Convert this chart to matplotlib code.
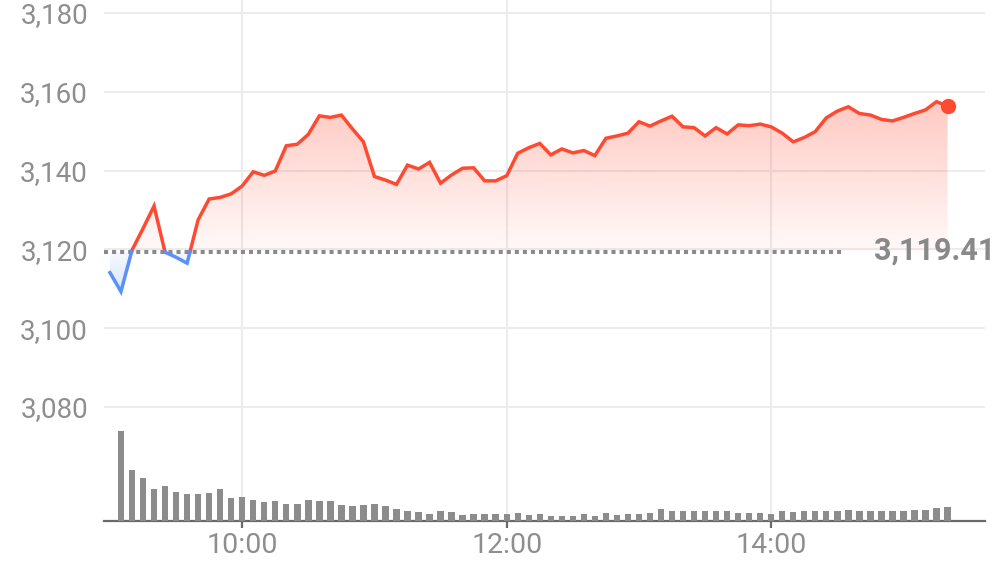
import numpy as np
import matplotlib.pyplot as plt
from matplotlib.path import Path
from matplotlib.colors import to_rgb

plt.rcParams['font.family'] = ['Roboto', 'DejaVu Sans']

# intraday index level, one reading every 5 minutes from 09:00 to 15:20
prev_close = 3119.41
price = [
    3114.1, 3109.3, 3119.8, 3125.3, 3131.0, 3119.3, 3118.0, 3116.5, 3127.5, 3132.8, 3133.2, 3134.1,
    3136.1, 3139.7, 3138.8, 3139.9, 3146.3, 3146.7, 3149.2, 3153.9, 3153.5, 3154.1, 3150.6, 3147.3,
    3138.5, 3137.6, 3136.5, 3141.4, 3140.4, 3142.1, 3136.8, 3138.9, 3140.6, 3140.7, 3137.4, 3137.4,
    3138.7, 3144.4, 3145.8, 3146.9, 3144.0, 3145.5, 3144.5, 3145.1, 3143.8, 3148.2, 3148.8, 3149.5,
    3152.4, 3151.3, 3152.6, 3153.8, 3151.1, 3150.9, 3148.8, 3150.9, 3149.3, 3151.6, 3151.4, 3151.8,
    3151.1, 3149.5, 3147.3, 3148.4, 3149.9, 3153.4, 3155.1, 3156.2, 3154.5, 3154.1, 3153.0, 3152.6,
    3153.5, 3154.5, 3155.4, 3157.5, 3156.4,
]
# traded volume per 5-minute bar (relative units), bars at 09:05 ... 15:20
volume = [
    90, 51, 43, 32, 35, 29, 27, 27, 28, 32, 23, 24, 21, 19, 20, 17, 17, 21, 20, 20,
    16, 15, 16, 17, 15, 12, 10, 9, 7, 10, 9, 6, 7, 7, 7, 7, 8, 6, 7,
    5, 5, 5, 7, 5, 8, 6, 7, 7, 8, 12, 10, 10, 10, 10, 10, 10, 8, 8, 8, 7,
    10, 9, 10, 10, 10, 10, 11, 10, 10, 10, 10, 10, 11, 11, 13, 14,
]
y_ticks = [3080, 3100, 3120, 3140, 3160, 3180]
x_ticks = ['10:00', '12:00', '14:00']

RED = '#ff4a32'
BLUE = '#5b8ff9'
GRID = '#ececec'
TXT = '#8e8e8e'


def to_minutes(hhmm):
    h, m = hhmm.split(':')
    return (int(h) - 9) * 60 + int(m)


def split_at_base(x, y, base):
    # add the points where the line crosses the previous close
    xs, ys = [x[0]], [y[0]]
    for i in range(1, len(x)):
        y0, y1 = y[i - 1], y[i]
        if (y0 - base) * (y1 - base) < 0:
            t = (base - y0) / (y1 - y0)
            xs.append(x[i - 1] + t * (x[i] - x[i - 1]))
            ys.append(base)
        xs.append(x[i])
        ys.append(y[i])
    return np.array(xs), np.array(ys)


def gradient_fill(ax, xs, ys, base, where, color, a_base, a_far, far):
    poly = ax.fill_between(xs, ys, base, where=where)
    path = Path.make_compound_path(*poly.get_paths())
    poly.remove()
    alpha = np.linspace(a_base, a_far, 256)
    img = np.zeros((256, 1, 4))
    img[:, 0, :3] = to_rgb(color)
    img[:, 0, 3] = alpha
    lo, hi = (base, far) if far > base else (far, base)
    if far < base:
        img = img[::-1]
    im = ax.imshow(img, extent=[xs.min(), xs.max(), lo, hi], aspect='auto',
                   origin='lower', zorder=1, interpolation='bilinear')
    im.set_clip_path(path, ax.transData)


price = np.array(price)
minutes = np.arange(len(price)) * 5
vol_minutes = minutes[1:]

fig = plt.figure(figsize=(9.96, 5.67), dpi=100)
ax = fig.add_axes([104 / 996, 46 / 567, 881 / 996, 521 / 567])

xs, ys = split_at_base(minutes, price, prev_close)
gradient_fill(ax, xs, ys, prev_close, ys >= prev_close, RED, 0.03, 0.30, price.max())
gradient_fill(ax, xs, ys, prev_close, ys <= prev_close, BLUE, 0.06, 0.22, price.min())

ax.plot(xs, np.ma.masked_where(ys < prev_close, ys), color=RED, lw=2.5, zorder=4,
        solid_joinstyle='miter')
ax.plot(xs, np.ma.masked_where(ys > prev_close, ys), color=BLUE, lw=2.5, zorder=4,
        solid_joinstyle='miter')
ax.plot(minutes[-1], price[-1], 'o', color=RED, ms=10, zorder=5)

ax.axhline(prev_close, xmin=0, xmax=0.838, color='#8a8a8a', lw=2.9,
           linestyle=(0, (1, 1)), dash_capstyle='butt', zorder=3)
fig.text(995 / 996, 1 - 251 / 567, f'{prev_close:,.2f}', ha='right', va='center',
         fontsize=22, fontweight='bold', color='#898989')

ax.set_xlim(-2.7, 397)
ax.set_ylim(3051.07, 3183.3)
ax.set_yticks(y_ticks)
ax.set_yticklabels([f'{v:,}' for v in y_ticks])
ax.set_xticks([to_minutes(t) for t in x_ticks])
ax.set_xticklabels(x_ticks)
ax.grid(True, color=GRID, lw=1.5, zorder=0)
ax.set_axisbelow(True)
for s in ['top', 'right', 'left']:
    ax.spines[s].set_visible(False)
ax.spines['bottom'].set_color('#6a6a6a')
ax.spines['bottom'].set_linewidth(1.6)
ax.tick_params(axis='y', length=0, pad=11.5, labelsize=20, labelcolor=TXT)
ax.tick_params(axis='x', length=5, width=1.6, color='#6a6a6a', pad=3,
               labelsize=20.5, labelcolor=TXT)

# volume on its own scale at the bottom of the same box
vax = ax.twinx()
vax.bar(vol_minutes, volume, width=2.9, color='#8c8c8c', zorder=2)
vax.set_ylim(0, 521)
vax.set_yticks([])
for s in vax.spines.values():
    s.set_visible(False)

fig.savefig('out.png', dpi=100)
